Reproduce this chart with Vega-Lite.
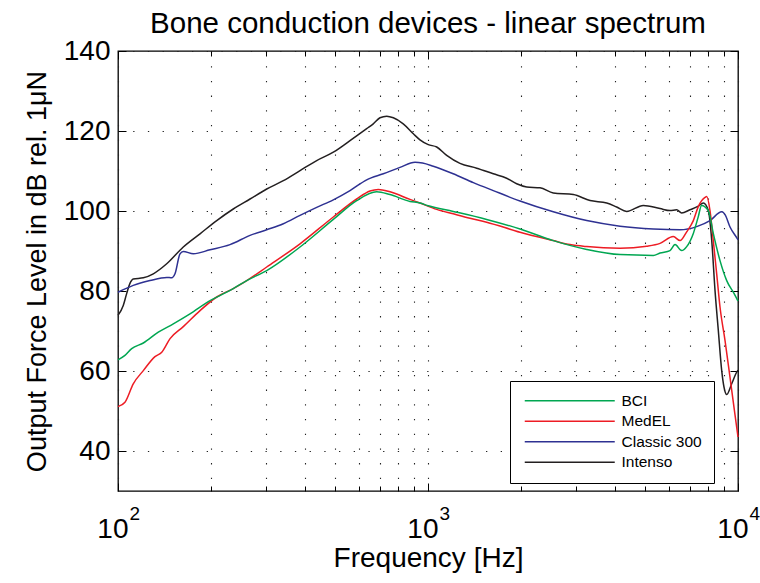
{
  "$schema": "https://vega.github.io/schema/vega-lite/v6.json",
  "width": 620,
  "height": 440,
  "autosize": "none",
  "padding": {"left": 118, "top": 51, "right": 22, "bottom": 92},
  "background": "white",
  "title": {"text": "Bone conduction devices - linear spectrum", "font": "Liberation Sans", "fontSize": 29.5, "fontWeight": "normal", "color": "black", "offset": -2, "anchor": "middle"},
  "config": {
    "view": {"stroke": "black", "strokeWidth": 1.3},
    "axis": {"labelFont": "Liberation Sans", "titleFont": "Liberation Sans", "labelColor": "black", "titleColor": "black", "titleFontWeight": "normal", "tickColor": "black", "tickWidth": 1, "gridColor": "#222", "gridOpacity": 1, "gridWidth": 1.1, "gridDash": [1.3, 13.4], "labelFlush": false, "labelOverlap": false}
  },
  "data": {"values": [
    {"device":"Intenso","f":100,"dB":73.9},{"device":"Intenso","f":104,"dB":76.4},{"device":"Intenso","f":106.7,"dB":79.4},{"device":"Intenso","f":109.3,"dB":81.9},{"device":"Intenso","f":112,"dB":83.0},{"device":"Intenso","f":120.7,"dB":83.3},{"device":"Intenso","f":130,"dB":84.3},{"device":"Intenso","f":143.6,"dB":86.8},{"device":"Intenso","f":162.4,"dB":91.0},{"device":"Intenso","f":183.9,"dB":94.3},{"device":"Intenso","f":208.2,"dB":97.6},{"device":"Intenso","f":235.4,"dB":100.5},{"device":"Intenso","f":266.6,"dB":103.0},{"device":"Intenso","f":301.8,"dB":105.5},{"device":"Intenso","f":341.5,"dB":107.6},{"device":"Intenso","f":386.5,"dB":110.1},{"device":"Intenso","f":437.5,"dB":112.6},{"device":"Intenso","f":495,"dB":114.7},{"device":"Intenso","f":560.3,"dB":117.6},{"device":"Intenso","f":634.2,"dB":120.6},{"device":"Intenso","f":666,"dB":121.8},{"device":"Intenso","f":700,"dB":123.3},{"device":"Intenso","f":736,"dB":123.7},{"device":"Intenso","f":773,"dB":123.3},{"device":"Intenso","f":832,"dB":121.8},{"device":"Intenso","f":897,"dB":119.3},{"device":"Intenso","f":942,"dB":117.8},{"device":"Intenso","f":1002,"dB":116.6},{"device":"Intenso","f":1067,"dB":116.0},{"device":"Intenso","f":1149,"dB":113.9},{"device":"Intenso","f":1268,"dB":111.9},{"device":"Intenso","f":1436,"dB":110.7},{"device":"Intenso","f":1624,"dB":109.3},{"device":"Intenso","f":1794,"dB":108.2},{"device":"Intenso","f":1932,"dB":106.8},{"device":"Intenso","f":2082,"dB":106.0},{"device":"Intenso","f":2298,"dB":105.8},{"device":"Intenso","f":2536,"dB":104.5},{"device":"Intenso","f":2943,"dB":104.1},{"device":"Intenso","f":3332,"dB":102.6},{"device":"Intenso","f":3772,"dB":102.0},{"device":"Intenso","f":4062,"dB":101.0},{"device":"Intenso","f":4375,"dB":99.9},{"device":"Intenso","f":4950,"dB":101.4},{"device":"Intenso","f":5603,"dB":100.6},{"device":"Intenso","f":6035,"dB":100.1},{"device":"Intenso","f":6342,"dB":100.3},{"device":"Intenso","f":6581,"dB":99.5},{"device":"Intenso","f":7000,"dB":100.3},{"device":"Intenso","f":7446,"dB":101.2},{"device":"Intenso","f":7730,"dB":102.0},{"device":"Intenso","f":8023,"dB":100.1},{"device":"Intenso","f":8228,"dB":92.6},{"device":"Intenso","f":8431,"dB":80.1},{"device":"Intenso","f":8641,"dB":70.1},{"device":"Intenso","f":8860,"dB":60.1},{"device":"Intenso","f":9011,"dB":56.0},{"device":"Intenso","f":9195,"dB":54.1},{"device":"Intenso","f":9543,"dB":56.8},{"device":"Intenso","f":9904,"dB":59.7},{"device":"Intenso","f":10000,"dB":60.2},
    {"device":"Classic 300","f":100,"dB":79.7},{"device":"Classic 300","f":112,"dB":81.4},{"device":"Classic 300","f":126.8,"dB":82.6},{"device":"Classic 300","f":143.6,"dB":83.4},{"device":"Classic 300","f":149,"dB":83.3},{"device":"Classic 300","f":152.7,"dB":84.3},{"device":"Classic 300","f":158.5,"dB":89.3},{"device":"Classic 300","f":162.4,"dB":89.9},{"device":"Classic 300","f":175,"dB":89.3},{"device":"Classic 300","f":198.1,"dB":90.3},{"device":"Classic 300","f":229.8,"dB":91.6},{"device":"Classic 300","f":266.6,"dB":93.9},{"device":"Classic 300","f":301.8,"dB":95.3},{"device":"Classic 300","f":341.5,"dB":96.8},{"device":"Classic 300","f":386.5,"dB":98.9},{"device":"Classic 300","f":437.5,"dB":100.9},{"device":"Classic 300","f":495,"dB":102.8},{"device":"Classic 300","f":560.3,"dB":105.1},{"device":"Classic 300","f":634.2,"dB":107.8},{"device":"Classic 300","f":717.6,"dB":109.3},{"device":"Classic 300","f":812.2,"dB":110.9},{"device":"Classic 300","f":908,"dB":112.2},{"device":"Classic 300","f":960,"dB":112.0},{"device":"Classic 300","f":1040,"dB":111.2},{"device":"Classic 300","f":1206,"dB":109.3},{"device":"Classic 300","f":1400,"dB":107.1},{"device":"Classic 300","f":1624,"dB":105.1},{"device":"Classic 300","f":1981,"dB":102.5},{"device":"Classic 300","f":2536,"dB":99.8},{"device":"Classic 300","f":3251,"dB":97.6},{"device":"Classic 300","f":4164,"dB":96.2},{"device":"Classic 300","f":5332,"dB":95.5},{"device":"Classic 300","f":6502,"dB":95.3},{"device":"Classic 300","f":7358,"dB":96.1},{"device":"Classic 300","f":8122,"dB":97.6},{"device":"Classic 300","f":8860,"dB":99.8},{"device":"Classic 300","f":9082,"dB":99.1},{"device":"Classic 300","f":9424,"dB":96.0},{"device":"Classic 300","f":9947,"dB":93.1},{"device":"Classic 300","f":10000,"dB":92.8},
    {"device":"MedEL","f":100,"dB":51.1},{"device":"MedEL","f":105.3,"dB":52.2},{"device":"MedEL","f":112,"dB":56.8},{"device":"MedEL","f":120.7,"dB":60.1},{"device":"MedEL","f":131.6,"dB":63.6},{"device":"MedEL","f":138.4,"dB":64.7},{"device":"MedEL","f":147.2,"dB":68.1},{"device":"MedEL","f":162.4,"dB":71.1},{"device":"MedEL","f":183.9,"dB":75.1},{"device":"MedEL","f":208.2,"dB":78.5},{"device":"MedEL","f":235.4,"dB":80.6},{"device":"MedEL","f":260.2,"dB":82.6},{"device":"MedEL","f":301.8,"dB":86.0},{"device":"MedEL","f":386.5,"dB":91.8},{"device":"MedEL","f":495,"dB":98.5},{"device":"MedEL","f":588.8,"dB":103.0},{"device":"MedEL","f":650,"dB":105.0},{"device":"MedEL","f":691.3,"dB":105.4},{"device":"MedEL","f":754.2,"dB":104.8},{"device":"MedEL","f":874.8,"dB":102.9},{"device":"MedEL","f":942,"dB":102.0},{"device":"MedEL","f":1067,"dB":100.4},{"device":"MedEL","f":1206,"dB":99.3},{"device":"MedEL","f":1366,"dB":98.2},{"device":"MedEL","f":1546,"dB":97.2},{"device":"MedEL","f":1981,"dB":94.7},{"device":"MedEL","f":2536,"dB":92.6},{"device":"MedEL","f":2871,"dB":91.6},{"device":"MedEL","f":3251,"dB":91.1},{"device":"MedEL","f":4164,"dB":90.7},{"device":"MedEL","f":5076,"dB":91.2},{"device":"MedEL","f":5605,"dB":91.9},{"device":"MedEL","f":6185,"dB":93.6},{"device":"MedEL","f":6502,"dB":92.6},{"device":"MedEL","f":6831,"dB":94.8},{"device":"MedEL","f":7176,"dB":97.6},{"device":"MedEL","f":7446,"dB":101.1},{"device":"MedEL","f":7826,"dB":103.4},{"device":"MedEL","f":7925,"dB":103.6},{"device":"MedEL","f":8122,"dB":100.1},{"device":"MedEL","f":8323,"dB":92.6},{"device":"MedEL","f":8536,"dB":84.3},{"device":"MedEL","f":8749,"dB":76.0},{"device":"MedEL","f":9082,"dB":67.6},{"device":"MedEL","f":9424,"dB":58.4},{"device":"MedEL","f":9707,"dB":50.9},{"device":"MedEL","f":10000,"dB":43.5},
    {"device":"BCI","f":100,"dB":62.8},{"device":"BCI","f":105.3,"dB":63.9},{"device":"BCI","f":110.7,"dB":65.6},{"device":"BCI","f":120.7,"dB":67.0},{"device":"BCI","f":134.9,"dB":69.7},{"device":"BCI","f":150.8,"dB":71.8},{"device":"BCI","f":170.7,"dB":74.3},{"device":"BCI","f":198.1,"dB":77.6},{"device":"BCI","f":224.2,"dB":79.7},{"device":"BCI","f":235.4,"dB":80.6},{"device":"BCI","f":260.2,"dB":82.6},{"device":"BCI","f":301.8,"dB":85.1},{"device":"BCI","f":386.5,"dB":91.0},{"device":"BCI","f":495,"dB":97.9},{"device":"BCI","f":588.8,"dB":102.6},{"device":"BCI","f":683.1,"dB":104.8},{"device":"BCI","f":754.2,"dB":104.1},{"device":"BCI","f":874.8,"dB":102.4},{"device":"BCI","f":942,"dB":102.0},{"device":"BCI","f":1002,"dB":101.3},{"device":"BCI","f":1206,"dB":99.9},{"device":"BCI","f":1546,"dB":97.9},{"device":"BCI","f":1981,"dB":95.5},{"device":"BCI","f":2536,"dB":92.6},{"device":"BCI","f":3251,"dB":90.4},{"device":"BCI","f":4164,"dB":89.1},{"device":"BCI","f":5332,"dB":88.9},{"device":"BCI","f":5603,"dB":89.5},{"device":"BCI","f":6035,"dB":90.1},{"device":"BCI","f":6264,"dB":91.6},{"device":"BCI","f":6581,"dB":90.1},{"device":"BCI","f":6831,"dB":91.1},{"device":"BCI","f":7176,"dB":94.4},{"device":"BCI","f":7446,"dB":98.6},{"device":"BCI","f":7627,"dB":101.4},{"device":"BCI","f":8023,"dB":100.1},{"device":"BCI","f":8323,"dB":94.4},{"device":"BCI","f":8749,"dB":87.6},{"device":"BCI","f":9195,"dB":82.6},{"device":"BCI","f":9707,"dB":79.4},{"device":"BCI","f":10000,"dB":77.5}
  ]},
  "layer": [
    {
      "mark": {"type": "line", "opacity": 0},
      "encoding": {
        "x": {"field": "f", "type": "quantitative", "scale": {"type": "log", "domain": [100, 10000], "nice": false},
          "axis": {"orient": "bottom", "values": [200,300,400,500,600,700,800,900,2000,3000,4000,5000,6000,7000,8000,9000], "labels": false, "tickSize": -5, "grid": true, "domain": false, "title": null}},
        "y": {"field": "dB", "type": "quantitative", "scale": {"domain": [30, 140], "nice": false},
          "axis": {"orient": "right", "values": [40,60,80,100,120,140], "labels": false, "tickSize": -8, "grid": false, "domain": false, "title": null}}
      }
    },
    {
      "mark": {"type": "line", "opacity": 0},
      "encoding": {
        "x": {"field": "f", "type": "quantitative",
          "axis": {"orient": "top", "values": [200,300,400,500,600,700,800,900,2000,3000,4000,5000,6000,7000,8000,9000], "labels": false, "tickSize": -5, "grid": false, "domain": false, "title": null}},
        "y": {"field": "dB", "type": "quantitative", "axis": null}
      }
    },
    {
      "mark": {"type": "line", "opacity": 0},
      "encoding": {
        "x": {"field": "f", "type": "quantitative",
          "axis": {"orient": "top", "values": [100,1000,10000], "labels": false, "tickSize": -8, "grid": false, "domain": false, "title": null}},
        "y": {"field": "dB", "type": "quantitative", "axis": null}
      }
    },
    {
      "mark": {"type": "line", "opacity": 0},
      "encoding": {
        "x": {"field": "f", "type": "quantitative",
          "axis": {"orient": "bottom", "values": [100,1000,10000], "labelExpr": "datum.value == 100 ? '2' : datum.value == 1000 ? '3' : '4'", "labelFontSize": 19, "labelAlign": "left", "labelBaseline": "top", "labelOffset": 11, "labelPadding": 21, "tickSize": -8, "grid": true, "domain": false, "title": null}},
        "y": {"field": "dB", "type": "quantitative",
          "axis": {"orient": "left", "values": [40,60,80,100,120,140], "labels": false, "tickSize": -8, "grid": true, "domain": false, "title": null}}
      }
    },
    {
      "mark": {"type": "line", "strokeWidth": 1.5, "interpolate": "monotone"},
      "encoding": {
        "x": {"field": "f", "type": "quantitative",
          "axis": {"orient": "bottom", "values": [100,1000,10000], "labelExpr": "'10'", "labelFontSize": 28, "labelAlign": "right", "labelBaseline": "top", "labelOffset": 10, "labelPadding": 24, "ticks": false, "grid": false, "domain": false, "title": "Frequency [Hz]", "titleFontSize": 28, "titlePadding": 1}},
        "y": {"field": "dB", "type": "quantitative",
          "axis": {"orient": "left", "values": [40,60,80,100,120,140], "labelFontSize": 28, "labelPadding": 8, "ticks": false, "grid": false, "domain": false, "title": "Output Force Level in dB rel. 1μN", "titleFontSize": 27, "titlePadding": 12}},
        "color": {"field": "device", "type": "nominal",
          "scale": {"domain": ["BCI", "MedEL", "Classic 300", "Intenso"], "range": ["#00A651", "#ED1C24", "#2E3192", "#231F20"]},
          "legend": {"orient": "none", "legendX": 392, "legendY": 330, "title": null, "symbolType": "M-9,0H9", "symbolSize": 100, "symbolStrokeWidth": 1.5, "labelFont": "Liberation Sans", "labelFontSize": 15.5, "labelColor": "black", "strokeColor": "black", "fillColor": "white", "padding": 12, "rowPadding": 3.5, "labelOffset": 44, "symbolOffset": 40}}
      }
    }
  ],
  "resolve": {"axis": {"x": "independent", "y": "independent"}}
}
